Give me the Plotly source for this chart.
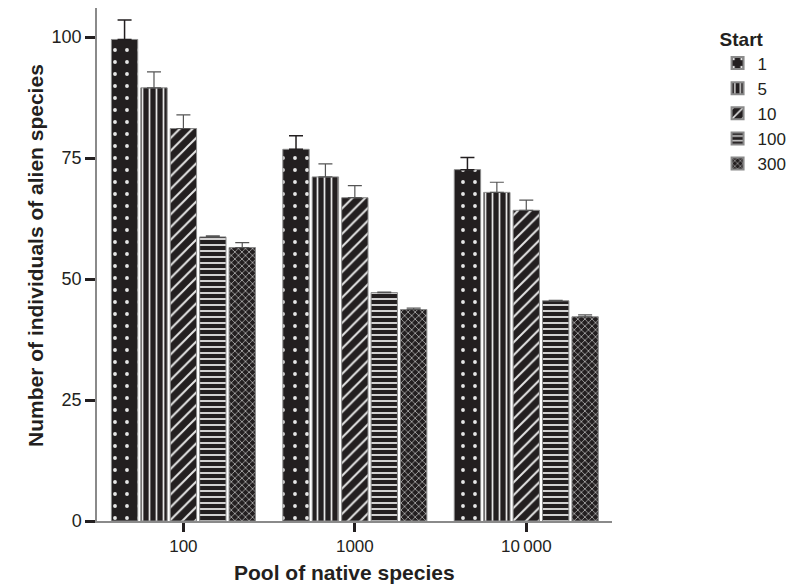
import plotly.graph_objects as go

pools = ["100", "1000", "10\u2009000"]
starts = ["1", "5", "10", "100", "300"]
values = {
    "1":   [99.5, 76.8, 72.6],
    "5":   [89.5, 71.1, 67.9],
    "10":  [81.1, 66.8, 64.2],
    "100": [58.7, 47.2, 45.5],
    "300": [56.5, 43.7, 42.2],
}
errors = {
    "1":   [4.0, 2.8, 2.5],
    "5":   [3.3, 2.7, 2.1],
    "10":  [2.8, 2.5, 2.1],
    "100": [0.2, 0.1, 0.1],
    "300": [1.0, 0.3, 0.4],
}
patterns = {
    "1":   dict(shape=".", size=12, solidity=0.08),
    "5":   dict(shape="|", size=7, solidity=0.25),
    "10":  dict(shape="/", size=9, solidity=0.22),
    "100": dict(shape="-", size=6, solidity=0.3),
    "300": dict(shape="x", size=5, solidity=0.22),
}
err_style = {
    "1":   dict(color="#231f20", thickness=1.5),
    "5":   dict(color="#555555", thickness=1.2),
    "10":  dict(color="#555555", thickness=1.2),
    "100": dict(color="#555555", thickness=1.2),
    "300": dict(color="#555555", thickness=1.2),
}

fig = go.Figure()
for s in starts:
    p = patterns[s]
    fig.add_trace(go.Bar(
        name=s,
        x=list(range(len(pools))),
        y=values[s],
        marker=dict(
            color="#231f20",
            line=dict(color="#8a8a8a", width=1),
            pattern=dict(shape=p["shape"], size=p["size"], solidity=p["solidity"],
                         bgcolor="#231f20", fgcolor="#e6e6e6", fillmode="replace"),
        ),
        error_y=dict(type="data", array=errors[s], arrayminus=[0, 0, 0], symmetric=False,
                     width=7, **err_style[s]),
    ))

fig.update_layout(
    width=804, height=587,
    margin=dict(l=97, r=192, t=8, b=66),
    plot_bgcolor="white", paper_bgcolor="white",
    barmode="group", bargap=0.142, bargroupgap=0.105,
    font=dict(family="Liberation Sans, Arial, sans-serif", size=17, color="#231f20"),
    showlegend=True,
    legend=dict(
        title=dict(text="<b>Start</b>", font=dict(size=19)),
        x=1.205, xanchor="left", y=0.975, yanchor="top",
        font=dict(size=17), tracegroupgap=0, itemsizing="constant",
    ),
    annotations=[
        dict(text="<b>Number of individuals of alien species</b>", textangle=-90,
             xref="paper", yref="paper", x=-0.1205, y=0.5185,
             xanchor="center", yanchor="middle", showarrow=False, font=dict(size=21)),
        dict(text="<b>Pool of native species</b>",
             xref="paper", yref="paper", x=0.481, y=-0.101,
             xanchor="center", yanchor="middle", showarrow=False, font=dict(size=21)),
    ],
)
fig.update_xaxes(
    range=[-0.504, 2.5], tickvals=list(range(len(pools))), ticktext=pools,
    showline=True, linecolor="#8a8a8a", linewidth=1.5,
    ticks="outside", ticklen=9, tickwidth=3, tickcolor="#231f20",
    showgrid=False, zeroline=False, tickfont=dict(size=17),
)
fig.update_yaxes(
    range=[0, 106], tickvals=[0, 25, 50, 75, 100],
    showline=True, linecolor="#8a8a8a", linewidth=1.5,
    ticks="outside", ticklen=10, tickwidth=3, tickcolor="#231f20",
    showgrid=False, zeroline=False, tickfont=dict(size=18),
)

fig.write_html("out.html")
